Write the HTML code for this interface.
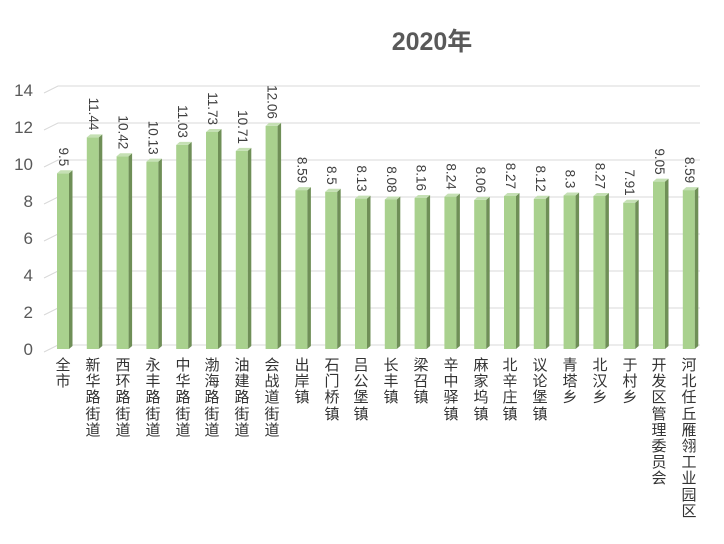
<!DOCTYPE html>
<html><head><meta charset="utf-8"><style>
body{margin:0;background:#fff;width:724px;height:544px;overflow:hidden;position:relative;font-family:"Liberation Sans","Noto Sans CJK SC",sans-serif}
.c{position:absolute;top:357px;width:18px;font-size:15px;line-height:16.2px;color:#333;text-align:center;font-family:"Noto Sans CJK SC",sans-serif}
</style></head><body>
<svg width="724" height="544" style="position:absolute;left:0;top:0" font-family="Liberation Sans, sans-serif">
<text x="432" y="50" text-anchor="middle" font-size="25" font-weight="bold" fill="#595959" font-family="Liberation Sans, Noto Sans CJK SC, sans-serif">2020年</text>
<g stroke="#d9d9d9" stroke-width="1" fill="none">
<polyline points="44,352 58,345 700,345"/>
<polyline points="44,315 58,308 700,308"/>
<polyline points="44,278 58,271 700,271"/>
<polyline points="44,241 58,234 700,234"/>
<polyline points="44,204 58,197 700,197"/>
<polyline points="44,167 58,160 700,160"/>
<polyline points="44,130 58,123 700,123"/>
<polyline points="44,93 58,86 700,86"/>
</g>
<g font-size="17" fill="#595959" text-anchor="end">
<text x="33" y="355">0</text><text x="33" y="318">2</text><text x="33" y="281">4</text><text x="33" y="244">6</text><text x="33" y="207">8</text><text x="33" y="170">10</text><text x="33" y="133">12</text><text x="33" y="96">14</text>
</g>
<g font-size="13.5" fill="#404040">
<g transform="translate(63.5,173.25)"><rect x="-6.5" y="0" width="12" height="175.75" fill="#a9d18e"/><polygon points="5.5,0 9,-3 9,172.75 5.5,175.75" fill="#6f8f57"/><polygon points="-6.5,0 -3,-3 9,-3 5.5,0" fill="#c5e0b4"/><text transform="translate(0,-7) rotate(90)" text-anchor="end" dominant-baseline="central">9.5</text></g>
<g transform="translate(93.3,137.36)"><rect x="-6.5" y="0" width="12" height="211.64" fill="#a9d18e"/><polygon points="5.5,0 9,-3 9,208.64 5.5,211.64" fill="#6f8f57"/><polygon points="-6.5,0 -3,-3 9,-3 5.5,0" fill="#c5e0b4"/><text transform="translate(0,-7) rotate(90)" text-anchor="end" dominant-baseline="central">11.44</text></g>
<g transform="translate(123.1,156.23)"><rect x="-6.5" y="0" width="12" height="192.77" fill="#a9d18e"/><polygon points="5.5,0 9,-3 9,189.77 5.5,192.77" fill="#6f8f57"/><polygon points="-6.5,0 -3,-3 9,-3 5.5,0" fill="#c5e0b4"/><text transform="translate(0,-7) rotate(90)" text-anchor="end" dominant-baseline="central">10.42</text></g>
<g transform="translate(152.9,161.6)"><rect x="-6.5" y="0" width="12" height="187.4" fill="#a9d18e"/><polygon points="5.5,0 9,-3 9,184.4 5.5,187.4" fill="#6f8f57"/><polygon points="-6.5,0 -3,-3 9,-3 5.5,0" fill="#c5e0b4"/><text transform="translate(0,-7) rotate(90)" text-anchor="end" dominant-baseline="central">10.13</text></g>
<g transform="translate(182.7,144.9)"><rect x="-6.5" y="0" width="12" height="204.1" fill="#a9d18e"/><polygon points="5.5,0 9,-3 9,201.1 5.5,204.1" fill="#6f8f57"/><polygon points="-6.5,0 -3,-3 9,-3 5.5,0" fill="#c5e0b4"/><text transform="translate(0,-7) rotate(90)" text-anchor="end" dominant-baseline="central">11.03</text></g>
<g transform="translate(212.5,132)"><rect x="-6.5" y="0" width="12" height="217" fill="#a9d18e"/><polygon points="5.5,0 9,-3 9,214 5.5,217" fill="#6f8f57"/><polygon points="-6.5,0 -3,-3 9,-3 5.5,0" fill="#c5e0b4"/><text transform="translate(0,-7) rotate(90)" text-anchor="end" dominant-baseline="central">11.73</text></g>
<g transform="translate(242.3,150.9)"><rect x="-6.5" y="0" width="12" height="198.1" fill="#a9d18e"/><polygon points="5.5,0 9,-3 9,195.1 5.5,198.1" fill="#6f8f57"/><polygon points="-6.5,0 -3,-3 9,-3 5.5,0" fill="#c5e0b4"/><text transform="translate(0,-7) rotate(90)" text-anchor="end" dominant-baseline="central">10.71</text></g>
<g transform="translate(272.1,125.9)"><rect x="-6.5" y="0" width="12" height="223.1" fill="#a9d18e"/><polygon points="5.5,0 9,-3 9,220.1 5.5,223.1" fill="#6f8f57"/><polygon points="-6.5,0 -3,-3 9,-3 5.5,0" fill="#c5e0b4"/><text transform="translate(0,-7) rotate(90)" text-anchor="end" dominant-baseline="central">12.06</text></g>
<g transform="translate(301.9,190.1)"><rect x="-6.5" y="0" width="12" height="158.9" fill="#a9d18e"/><polygon points="5.5,0 9,-3 9,155.9 5.5,158.9" fill="#6f8f57"/><polygon points="-6.5,0 -3,-3 9,-3 5.5,0" fill="#c5e0b4"/><text transform="translate(0,-7) rotate(90)" text-anchor="end" dominant-baseline="central">8.59</text></g>
<g transform="translate(331.7,191.75)"><rect x="-6.5" y="0" width="12" height="157.25" fill="#a9d18e"/><polygon points="5.5,0 9,-3 9,154.25 5.5,157.25" fill="#6f8f57"/><polygon points="-6.5,0 -3,-3 9,-3 5.5,0" fill="#c5e0b4"/><text transform="translate(0,-7) rotate(90)" text-anchor="end" dominant-baseline="central">8.5</text></g>
<g transform="translate(361.5,198.6)"><rect x="-6.5" y="0" width="12" height="150.4" fill="#a9d18e"/><polygon points="5.5,0 9,-3 9,147.4 5.5,150.4" fill="#6f8f57"/><polygon points="-6.5,0 -3,-3 9,-3 5.5,0" fill="#c5e0b4"/><text transform="translate(0,-7) rotate(90)" text-anchor="end" dominant-baseline="central">8.13</text></g>
<g transform="translate(391.3,199.5)"><rect x="-6.5" y="0" width="12" height="149.5" fill="#a9d18e"/><polygon points="5.5,0 9,-3 9,146.5 5.5,149.5" fill="#6f8f57"/><polygon points="-6.5,0 -3,-3 9,-3 5.5,0" fill="#c5e0b4"/><text transform="translate(0,-7) rotate(90)" text-anchor="end" dominant-baseline="central">8.08</text></g>
<g transform="translate(421.1,198)"><rect x="-6.5" y="0" width="12" height="151" fill="#a9d18e"/><polygon points="5.5,0 9,-3 9,148 5.5,151" fill="#6f8f57"/><polygon points="-6.5,0 -3,-3 9,-3 5.5,0" fill="#c5e0b4"/><text transform="translate(0,-7) rotate(90)" text-anchor="end" dominant-baseline="central">8.16</text></g>
<g transform="translate(450.9,196.6)"><rect x="-6.5" y="0" width="12" height="152.4" fill="#a9d18e"/><polygon points="5.5,0 9,-3 9,149.4 5.5,152.4" fill="#6f8f57"/><polygon points="-6.5,0 -3,-3 9,-3 5.5,0" fill="#c5e0b4"/><text transform="translate(0,-7) rotate(90)" text-anchor="end" dominant-baseline="central">8.24</text></g>
<g transform="translate(480.7,199.9)"><rect x="-6.5" y="0" width="12" height="149.1" fill="#a9d18e"/><polygon points="5.5,0 9,-3 9,146.1 5.5,149.1" fill="#6f8f57"/><polygon points="-6.5,0 -3,-3 9,-3 5.5,0" fill="#c5e0b4"/><text transform="translate(0,-7) rotate(90)" text-anchor="end" dominant-baseline="central">8.06</text></g>
<g transform="translate(510.5,196)"><rect x="-6.5" y="0" width="12" height="153" fill="#a9d18e"/><polygon points="5.5,0 9,-3 9,150 5.5,153" fill="#6f8f57"/><polygon points="-6.5,0 -3,-3 9,-3 5.5,0" fill="#c5e0b4"/><text transform="translate(0,-7) rotate(90)" text-anchor="end" dominant-baseline="central">8.27</text></g>
<g transform="translate(540.3,198.8)"><rect x="-6.5" y="0" width="12" height="150.2" fill="#a9d18e"/><polygon points="5.5,0 9,-3 9,147.2 5.5,150.2" fill="#6f8f57"/><polygon points="-6.5,0 -3,-3 9,-3 5.5,0" fill="#c5e0b4"/><text transform="translate(0,-7) rotate(90)" text-anchor="end" dominant-baseline="central">8.12</text></g>
<g transform="translate(570.1,195.45)"><rect x="-6.5" y="0" width="12" height="153.55" fill="#a9d18e"/><polygon points="5.5,0 9,-3 9,150.55 5.5,153.55" fill="#6f8f57"/><polygon points="-6.5,0 -3,-3 9,-3 5.5,0" fill="#c5e0b4"/><text transform="translate(0,-7) rotate(90)" text-anchor="end" dominant-baseline="central">8.3</text></g>
<g transform="translate(599.9,196)"><rect x="-6.5" y="0" width="12" height="153" fill="#a9d18e"/><polygon points="5.5,0 9,-3 9,150 5.5,153" fill="#6f8f57"/><polygon points="-6.5,0 -3,-3 9,-3 5.5,0" fill="#c5e0b4"/><text transform="translate(0,-7) rotate(90)" text-anchor="end" dominant-baseline="central">8.27</text></g>
<g transform="translate(629.7,202.7)"><rect x="-6.5" y="0" width="12" height="146.3" fill="#a9d18e"/><polygon points="5.5,0 9,-3 9,143.3 5.5,146.3" fill="#6f8f57"/><polygon points="-6.5,0 -3,-3 9,-3 5.5,0" fill="#c5e0b4"/><text transform="translate(0,-7) rotate(90)" text-anchor="end" dominant-baseline="central">7.91</text></g>
<g transform="translate(659.5,181.6)"><rect x="-6.5" y="0" width="12" height="167.4" fill="#a9d18e"/><polygon points="5.5,0 9,-3 9,164.4 5.5,167.4" fill="#6f8f57"/><polygon points="-6.5,0 -3,-3 9,-3 5.5,0" fill="#c5e0b4"/><text transform="translate(0,-7) rotate(90)" text-anchor="end" dominant-baseline="central">9.05</text></g>
<g transform="translate(689.3,190.1)"><rect x="-6.5" y="0" width="12" height="158.9" fill="#a9d18e"/><polygon points="5.5,0 9,-3 9,155.9 5.5,158.9" fill="#6f8f57"/><polygon points="-6.5,0 -3,-3 9,-3 5.5,0" fill="#c5e0b4"/><text transform="translate(0,-7) rotate(90)" text-anchor="end" dominant-baseline="central">8.59</text></g>
</g>
</svg>
<div class="c" style="left:54px">全市</div>
<div class="c" style="left:84px">新华路街道</div>
<div class="c" style="left:114px">西环路街道</div>
<div class="c" style="left:144px">永丰路街道</div>
<div class="c" style="left:174px">中华路街道</div>
<div class="c" style="left:203px">渤海路街道</div>
<div class="c" style="left:233px">油建路街道</div>
<div class="c" style="left:263px">会战道街道</div>
<div class="c" style="left:293px">出岸镇</div>
<div class="c" style="left:323px">石门桥镇</div>
<div class="c" style="left:352px">吕公堡镇</div>
<div class="c" style="left:382px">长丰镇</div>
<div class="c" style="left:412px">梁召镇</div>
<div class="c" style="left:442px">辛中驿镇</div>
<div class="c" style="left:472px">麻家坞镇</div>
<div class="c" style="left:501px">北辛庄镇</div>
<div class="c" style="left:531px">议论堡镇</div>
<div class="c" style="left:561px">青塔乡</div>
<div class="c" style="left:591px">北汉乡</div>
<div class="c" style="left:621px">于村乡</div>
<div class="c" style="left:650px">开发区管理委员会</div>
<div class="c" style="left:680px">河北任丘雁翎工业园区</div>
</body></html>
